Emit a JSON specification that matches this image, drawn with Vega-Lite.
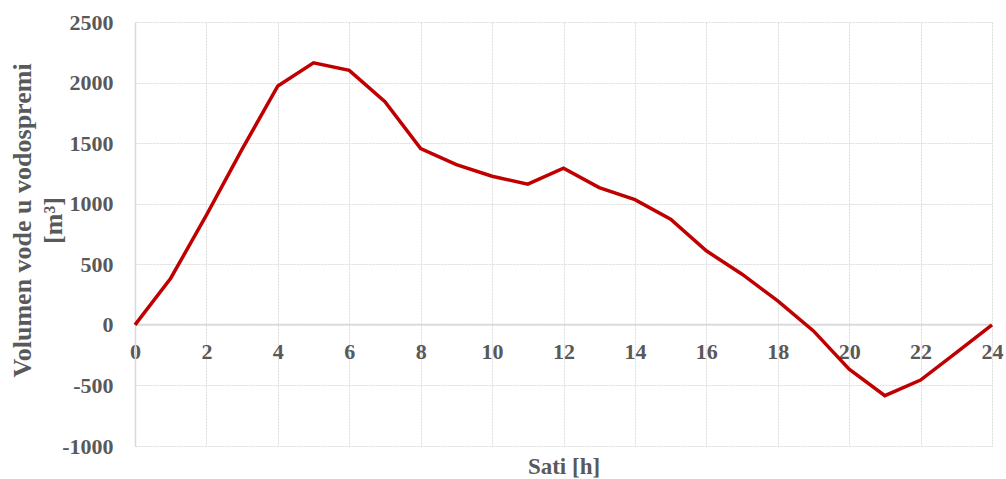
{
  "$schema": "https://vega.github.io/schema/vega-lite/v6.json",
  "autosize": {"type": "none"},
  "padding": {"left": 135, "top": 22, "right": 14, "bottom": 33},
  "width": 857,
  "height": 424,
  "background": "white",
  "config": {"view": {"stroke": null}},
  "data": {"values": [
    {"h": 0, "v": 0},
    {"h": 1, "v": 385},
    {"h": 2, "v": 905},
    {"h": 3, "v": 1450},
    {"h": 4, "v": 1972},
    {"h": 5, "v": 2163},
    {"h": 6, "v": 2101},
    {"h": 7, "v": 1843},
    {"h": 8, "v": 1455},
    {"h": 9, "v": 1322},
    {"h": 10, "v": 1227},
    {"h": 11, "v": 1161},
    {"h": 12, "v": 1293},
    {"h": 13, "v": 1133},
    {"h": 14, "v": 1034},
    {"h": 15, "v": 872},
    {"h": 16, "v": 611},
    {"h": 17, "v": 418},
    {"h": 18, "v": 198},
    {"h": 19, "v": -50},
    {"h": 20, "v": -366},
    {"h": 21, "v": -585},
    {"h": 22, "v": -456},
    {"h": 23, "v": -230},
    {"h": 24, "v": 0}
  ]},
  "mark": {"type": "line", "color": "#c00000", "strokeWidth": 3.5},
  "encoding": {
    "x": {
      "field": "h", "type": "quantitative",
      "scale": {"domain": [0, 24], "nice": false},
      "axis": {
        "values": [0, 2, 4, 6, 8, 10, 12, 14, 16, 18, 20, 22, 24],
        "offset": -122,
        "title": "Sati [h]",
        "titleFont": "Liberation Serif", "titleFontSize": 23, "titleFontWeight": "bold", "titleColor": "#595959",
        "titleY": 142, "titleBaseline": "middle",
        "labelFont": "Liberation Serif", "labelFontSize": 22, "labelFontWeight": "bold", "labelColor": "#595959",
        "labelPadding": 17,
        "labelFlush": false,
        "ticks": false,
        "domain": true, "domainColor": "#d9d9d9", "domainWidth": 1.5,
        "grid": true, "gridColor": "#dcdcdc", "gridDash": [2, 1], "gridWidth": 1
      }
    },
    "y": {
      "field": "v", "type": "quantitative",
      "scale": {"domain": [-1000, 2500], "nice": false},
      "axis": {
        "values": [-1000, -500, 0, 500, 1000, 1500, 2000, 2500],
        "labelExpr": "datum.value + ''",
        "title": ["Volumen vode u vodospremi", "[m³]"],
        "titleFont": "Liberation Serif", "titleFontSize": 26, "titleFontWeight": "bold", "titleColor": "#595959",
        "titleX": -113, "titleY": 198, "titleBaseline": "middle", "titleAlign": "center", "titleAngle": -90,
        "titleLineHeight": 31,
        "labelFont": "Liberation Serif", "labelFontSize": 22, "labelFontWeight": "bold", "labelColor": "#595959",
        "labelPadding": 22,
        "ticks": false,
        "domain": true, "domainColor": "#d9d9d9", "domainWidth": 1.5,
        "grid": true, "gridColor": "#dcdcdc", "gridDash": [2, 1], "gridWidth": 1
      }
    }
  }
}
